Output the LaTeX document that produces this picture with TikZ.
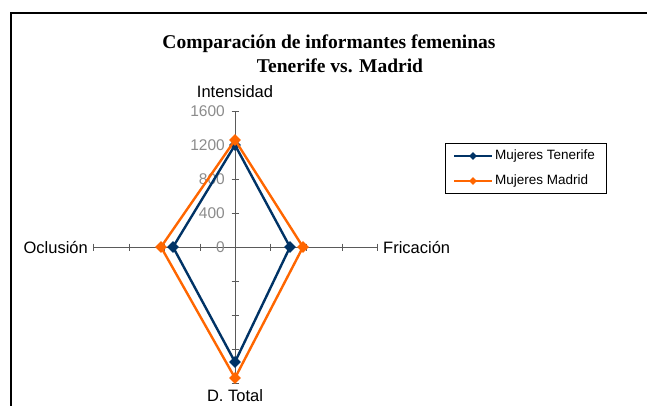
\documentclass[tikz,border=0pt]{standalone}
\usepackage{fontspec}
\setmainfont{Liberation Serif}
\setsansfont{Liberation Sans}
\usetikzlibrary{shapes.geometric}
\definecolor{ten}{HTML}{003366}
\definecolor{mad}{HTML}{FF6600}
\definecolor{axisgray}{HTML}{5A5A5A}
\definecolor{numgray}{HTML}{8C8C8C}
\begin{document}
\begin{tikzpicture}[x=1pt,y=-1pt,
  axisline/.style={draw=axisgray, line width=0.9pt},
  tickmark/.style={draw=axisgray, line width=0.9pt},
  series/.style={line width=2.4pt, line join=miter},
  lab/.style={font=\sffamily\fontsize{16.5}{17}\selectfont, inner sep=0pt},
  num/.style={font=\sffamily\fontsize{15.5}{16}\selectfont, text=numgray, inner sep=0pt, anchor=east},
  mk/.style={diamond, fill=#1, inner sep=0pt, minimum size=12pt},
  legmk/.style={diamond, fill=#1, inner sep=0pt, minimum size=8pt},
  legtext/.style={font=\sffamily\fontsize{13.5}{14}\selectfont, inner sep=0pt, anchor=west},
  titletext/.style={font=\bfseries\fontsize{19.5}{21}\selectfont, inner sep=0pt, anchor=base},
  ]
\useasboundingbox (0,0) rectangle (647,405);
\fill[white] (0,0) rectangle (647,405);
% frame
\draw[line width=1.2pt] (11,420) -- (11,13) -- (660,13);
% title
\node[titletext] (title1) at (329,48) {Comparación de informantes femeninas};
\node[titletext] (title2) at (340,72) {Tenerife vs. Madrid};
% axes
\coordinate (C) at (235,247);
\coordinate (N) at (235,111);
\coordinate (S) at (235,383);
\coordinate (W) at (93,247);
\coordinate (E) at (377,247);
\draw[axisline] (W) -- (E);
\draw[axisline] (N) -- (S);
\foreach \x in {93,129,164,200,270,306,342,377}
  \draw[tickmark] (\x,243.5) -- (\x,250.5);
\foreach \y in {111,145,179,213,281,315,349,383}
  \draw[tickmark] (231.5,\y) -- (238.5,\y);
% tick labels
\node[num] (n1600) at (225,111) {1600};
\node[num] (n1200) at (225,145) {1200};
\node[num] (n800) at (225,179) {800};
\node[num] (n400) at (225,213) {400};
\node[num] (n0) at (225,247) {0};
% axis labels
\node[lab] (lInt) at (235,92) {Intensidad};
\node[lab, anchor=east] (lOcl) at (88,247) {Oclusión};
\node[lab, anchor=west] (lFri) at (383,247) {Fricación};
\node[lab] (lDT) at (235,396) {D. Total};
% Tenerife
\coordinate (t1) at (235,145);
\coordinate (t2) at (290,247);
\coordinate (t3) at (235,362);
\coordinate (t4) at (173,247);
\draw[series, ten] (t1) -- (t2) -- (t3) -- (t4) -- cycle;
\foreach \p in {t1,t2,t3,t4} \node[mk=ten] (mk\p) at (\p) {};
% Madrid
\coordinate (m1) at (235,140);
\coordinate (m2) at (303,247);
\coordinate (m3) at (235,378);
\coordinate (m4) at (161,247);
\draw[series, mad] (m1) -- (m2) -- (m3) -- (m4) -- cycle;
\foreach \p in {m1,m2,m3,m4} \node[mk=mad] (mk\p) at (\p) {};
% legend
\node[draw=black, line width=0.8pt, minimum width=161pt, minimum height=50pt, inner sep=0pt, anchor=north west] (legend) at (445,143) {};
\coordinate (la1) at (454,156);
\coordinate (lb1) at (492,156);
\coordinate (la2) at (454,181);
\coordinate (lb2) at (492,181);
\draw[series, ten] (la1) -- (lb1);
\node[legmk=ten] (lm1) at (473,156) {};
\draw[series, mad] (la2) -- (lb2);
\node[legmk=mad] (lm2) at (473,181) {};
\node[legtext] (lt1) at (495,156) {Mujeres Tenerife};
\node[legtext] (lt2) at (495,181) {Mujeres Madrid};
\end{tikzpicture}
\end{document}
